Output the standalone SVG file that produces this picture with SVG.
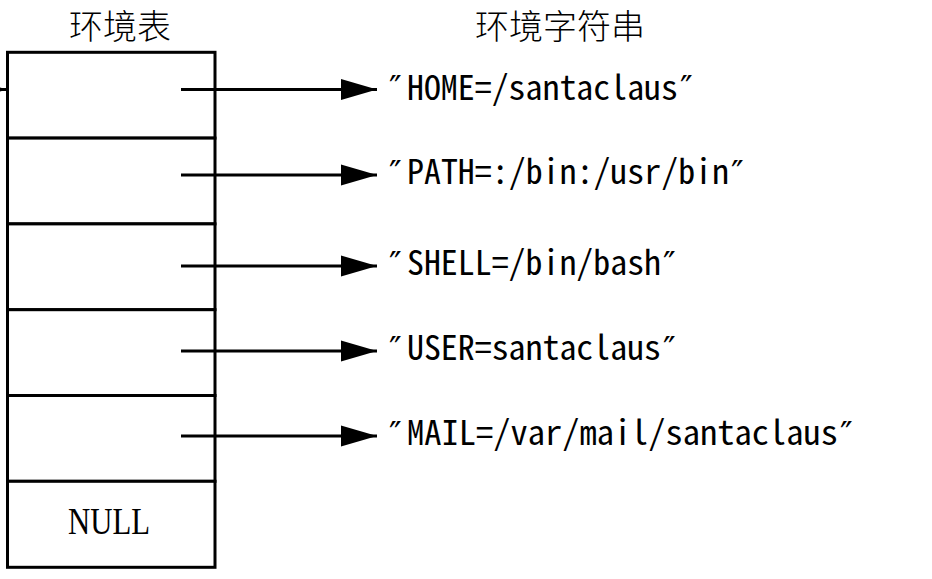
<svg xmlns="http://www.w3.org/2000/svg" width="932" height="579" viewBox="0 0 932 579">
<style>
.cell{fill:#fff;stroke:#000;stroke-width:3}
.cn{font-family:"Noto Sans CJK SC","Noto Sans CJK JP",sans-serif;font-size:34px;font-weight:300;fill:#000}
.str{font-family:"Noto Sans Mono CJK SC","Liberation Mono",monospace;font-size:34px;font-weight:300;fill:#000}
.nul{font-family:"Liberation Serif",serif;font-size:38px;fill:#000}
.q{font-family:"DejaVu Sans",sans-serif;font-size:34px;fill:#000}
.conn{stroke:#000;stroke-width:3;fill:none;marker-end:url(#ah)}
</style>
<defs>
<marker id="ah" markerUnits="userSpaceOnUse" markerWidth="36" markerHeight="21" refX="36" refY="10.5" orient="auto" overflow="visible">
<path d="M0,0 L36,10.5 L0,21 Z" fill="#000"/>
</marker>
</defs>
<rect width="932" height="579" fill="#fff"/>
<g id="title-table"><text class="cn" x="120" y="39" text-anchor="middle">环境表</text></g>
<g id="title-strings"><text class="cn" x="560" y="39" text-anchor="middle">环境字符串</text></g>
<g id="table">
<rect id="row1" class="cell" x="7.5" y="52.3" width="207.5" height="85.8"/>
<rect id="row2" class="cell" x="7.5" y="138.1" width="207.5" height="85.8"/>
<rect id="row3" class="cell" x="7.5" y="223.9" width="207.5" height="85.8"/>
<rect id="row4" class="cell" x="7.5" y="309.7" width="207.5" height="85.8"/>
<rect id="row5" class="cell" x="7.5" y="395.5" width="207.5" height="85.8"/>
<g id="row-null">
<rect class="cell" x="7.5" y="481.3" width="207.5" height="86"/>
<text class="nul" x="68" y="534" textLength="82" lengthAdjust="spacingAndGlyphs">NULL</text>
</g>
</g>
<g id="s1">
<text class="q" x="389" y="100">″</text>
<text class="str" x="407" y="99.5" textLength="271" lengthAdjust="spacingAndGlyphs">HOME=/santaclaus</text>
<text class="q" x="680" y="100">″</text>
</g>
<g id="s2">
<text class="q" x="389" y="185">″</text>
<text class="str" x="407" y="184" textLength="322" lengthAdjust="spacingAndGlyphs">PATH=:/bin:/usr/bin</text>
<text class="q" x="731" y="185">″</text>
</g>
<g id="s3">
<text class="q" x="389" y="276">″</text>
<text class="str" x="407" y="275" textLength="254" lengthAdjust="spacingAndGlyphs">SHELL=/bin/bash</text>
<text class="q" x="663" y="276">″</text>
</g>
<g id="s4">
<text class="q" x="389" y="361">″</text>
<text class="str" x="407" y="360" textLength="254" lengthAdjust="spacingAndGlyphs">USER=santaclaus</text>
<text class="q" x="663" y="361">″</text>
</g>
<g id="s5">
<text class="q" x="389" y="446">″</text>
<text class="str" x="407" y="445" textLength="431" lengthAdjust="spacingAndGlyphs">MAIL=/var/mail/santaclaus</text>
<text class="q" x="840" y="446">″</text>
</g>
<g id="connectors">
<line class="conn" x1="-60" y1="89.5" x2="7" y2="89.5"/>
<line class="conn" x1="181" y1="89.5" x2="377" y2="89.5"/>
<line class="conn" x1="181" y1="175" x2="377" y2="175"/>
<line class="conn" x1="181" y1="266" x2="377" y2="266"/>
<line class="conn" x1="181" y1="351" x2="377" y2="351"/>
<line class="conn" x1="181" y1="436" x2="377" y2="436"/>
</g>
</svg>
